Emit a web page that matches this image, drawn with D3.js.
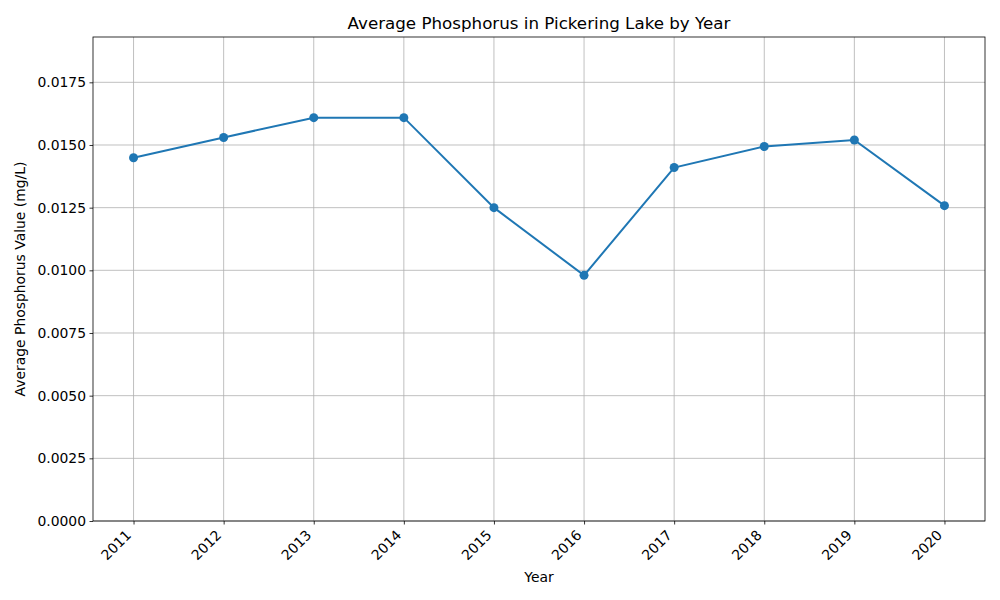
<!DOCTYPE html>
<html>
<head>
<meta charset="utf-8">
<script src="https://cdn.jsdelivr.net/npm/d3@7"></script>
<style>
  body { margin: 0; background: #fff; }
  svg text { font-family: "DejaVu Sans", sans-serif; fill: #000; }
</style>
</head>
<body>
<div id="chart"></div>
<script>
var years = [2011, 2012, 2013, 2014, 2015, 2016, 2017, 2018, 2019, 2020];
var phosphorus = [0.01449, 0.01530, 0.01609, 0.01609, 0.01250, 0.00980, 0.01410, 0.01494, 0.01520, 0.01258];
var yTicks = [0, 0.0025, 0.005, 0.0075, 0.01, 0.0125, 0.015, 0.0175];

var svgWidth = 1000;
var svgHeight = 600;
var margin = { top: 37, right: 15, bottom: 79, left: 93 };
var width = svgWidth - margin.left - margin.right;
var height = svgHeight - margin.top - margin.bottom;

var svg = d3.select("#chart").append("svg")
            .attr("width", svgWidth)
            .attr("height", svgHeight);

var chartGroup = svg.append("g")
                    .attr("transform", `translate(${margin.left}, ${margin.top})`);

var pad = (d3.max(years) - d3.min(years)) * 0.05;
var xScale = d3.scaleLinear()
               .domain([d3.min(years) - pad, d3.max(years) + pad])
               .range([0, width]);

var yScale = d3.scaleLinear()
               .domain([0, d3.max(phosphorus) * 1.2])
               .range([height, 0]);

// grid
chartGroup.append("g")
          .selectAll("line")
          .data(years)
          .enter()
          .append("line")
          .attr("x1", d => xScale(d))
          .attr("x2", d => xScale(d))
          .attr("y1", 0)
          .attr("y2", height)
          .attr("stroke", "#b0b0b0")
          .attr("stroke-width", 0.8);

chartGroup.append("g")
          .selectAll("line")
          .data(yTicks)
          .enter()
          .append("line")
          .attr("x1", 0)
          .attr("x2", width)
          .attr("y1", d => yScale(d))
          .attr("y2", d => yScale(d))
          .attr("stroke", "#b0b0b0")
          .attr("stroke-width", 0.8);

// axes
var bottomAxis = d3.axisBottom(xScale).tickValues(years).tickFormat(d3.format("d")).tickSizeOuter(0).tickSize(3.5).tickPadding(3.5);
var leftAxis = d3.axisLeft(yScale).tickValues(yTicks).tickFormat(d3.format(".4f")).tickSizeOuter(0).tickSize(3.5).tickPadding(3.5);

var xAxisG = chartGroup.append("g")
          .attr("transform", `translate(0, ${height})`)
          .call(bottomAxis);
// rotated labels, right edge on the tick like matplotlib ha="right"
xAxisG.selectAll("text")
      .style("font-size", "13.9px")
      .attr("text-anchor", "end")
      .attr("y", 0)
      .attr("dy", 0)
      .attr("transform", "translate(-2, 15) rotate(-45)");

var yAxisG = chartGroup.append("g").call(leftAxis);
yAxisG.selectAll("text").style("font-size", "13.9px");

[xAxisG, yAxisG].forEach(function(g) {
    g.select(".domain").remove();
    g.selectAll(".tick line").attr("stroke", "#000").attr("stroke-width", 0.8);
});

// frame
chartGroup.append("rect")
          .attr("width", width)
          .attr("height", height)
          .attr("fill", "none")
          .attr("stroke", "#000")
          .attr("stroke-width", 0.8);

// line + markers
var line = d3.line()
             .x((d, i) => xScale(years[i]))
             .y(d => yScale(d));

chartGroup.append("path")
          .datum(phosphorus)
          .attr("fill", "none")
          .attr("stroke", "#1f77b4")
          .attr("stroke-width", 2)
          .attr("d", line);

chartGroup.selectAll("circle")
          .data(phosphorus)
          .enter()
          .append("circle")
          .attr("cx", (d, i) => xScale(years[i]))
          .attr("cy", d => yScale(d))
          .attr("r", 4.5)
          .attr("fill", "#1f77b4");

// labels
svg.append("text")
   .attr("x", margin.left + width / 2)
   .attr("y", 29)
   .attr("text-anchor", "middle")
   .style("font-size", "16.7px")
   .text("Average Phosphorus in Pickering Lake by Year");

svg.append("text")
   .attr("x", margin.left + width / 2)
   .attr("y", 582)
   .attr("text-anchor", "middle")
   .style("font-size", "13.9px")
   .text("Year");

svg.append("text")
   .attr("transform", "rotate(-90)")
   .attr("x", -(margin.top + height / 2))
   .attr("y", 25)
   .attr("text-anchor", "middle")
   .style("font-size", "13.9px")
   .text("Average Phosphorus Value (mg/L)");
</script>
</body>
</html>
